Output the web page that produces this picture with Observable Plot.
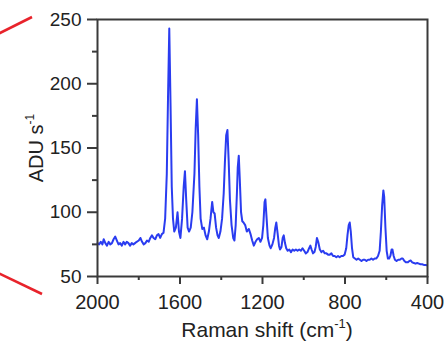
<!DOCTYPE html>
<html>
<head>
<meta charset="utf-8">
<script src="https://cdn.jsdelivr.net/npm/d3@7"></script>
<script src="https://cdn.jsdelivr.net/npm/@observablehq/plot@0.6"></script>
<style>
  html, body { margin: 0; padding: 0; background: #fff; }
  #wrap { position: relative; width: 446px; height: 342px; font-family: "Liberation Sans", Arial, sans-serif; }
  #deco { position: absolute; left: 0; top: 0; pointer-events: none; }
</style>
</head>
<body>
<div id="wrap"></div>
<script>
// Raman shift (cm^-1) and intensity (ADU s^-1)
const shift = [
  2000,1992,1984,1976,1970,1962,1954,1946,1938,1930,1922,1914,1906,1898,1890,1882,1874,1866,1858,1850,
  1842,1834,1826,1818,1810,1800,1792,1784,1776,1768,1760,1752,1744,1736,1728,1720,1712,1704,1696,1688,
  1680,1672,1664,1658,1652,1646,1640,1634,1628,1620,1612,1605,1598,1590,1582,1576,1570,1563,1556,1548,
  1540,1530,1524,1518,1512,1506,1500,1492,1484,1476,1468,1460,1452,1444,1438,1432,1425,1418,1412,1404,
  1396,1388,1382,1376,1370,1364,1358,1350,1342,1336,1330,1324,1320,1315,1310,1304,1298,1292,1284,1276,
  1266,1258,1250,1242,1234,1226,1218,1210,1202,1196,1190,1186,1180,1174,1166,1160,1152,1144,1138,1133,
  1127,1120,1115,1108,1102,1097,1091,1085,1078,1070,1062,1054,1046,1038,1030,1022,1014,1006,998,990,
  982,974,968,962,955,948,942,936,930,922,914,906,898,890,882,874,866,858,850,842,
  834,826,818,810,802,794,788,782,777,772,766,760,752,744,736,728,720,712,704,696,
  688,680,672,664,656,648,640,632,626,620,614,610,604,598,592,586,580,574,570,564,
  558,550,542,534,526,520,512,504,496,488,482,474,466,458,450,442,434,426,418,410,402
];
const adu = [
  76,75,77,75,79,76,74,77,75,76,79,81,78,75,76,74,77,75,77,76,
  74,76,75,76,77,78,80,77,75,76,78,77,80,82,80,79,82,83,80,83,
  84,95,130,190,243,185,120,95,85,88,100,85,80,95,120,132,110,88,85,88,
  100,130,165,188,160,120,95,87,88,82,79,85,95,108,100,99,88,82,80,85,
  95,115,140,160,164,140,110,90,80,78,90,115,135,144,125,100,93,92,90,85,
  87,83,78,74,77,79,80,77,80,90,108,110,95,80,74,72,75,80,88,92,
  84,74,71,73,80,82,76,72,70,71,69,71,70,71,70,71,70,72,70,68,
  69,72,74,71,68,69,73,80,77,71,69,70,68,68,67,67,68,66,66,65,
  66,65,66,66,67,72,82,90,92,85,72,65,64,63,64,63,62,63,63,62,
  63,63,64,63,64,64,66,70,85,105,117,112,88,70,64,64,66,71,71,66,
  63,62,63,63,64,64,62,61,61,62,62.5,61,60.5,60,60.5,60,59.5,59.5,59,59,58.7
];
const xTicks = [2000, 1600, 1200, 800, 400];
const xMinor = [1800, 1400, 1000, 600];
const yTicks = [50, 100, 150, 200, 250];
const yMinor = [75, 125, 175, 225];
const xTitle = "Raman shift (cm";
const xTitleSup = "-1";
const yTitle = "ADU s";
const yTitleSup = "-1";

const data = shift.map((s, i) => ({shift: s, adu: adu[i]}));
const axisColor = "#3a3a3a";

const chart = Plot.plot({
  width: 446,
  height: 342,
  marginLeft: 97,
  marginRight: 19,
  marginTop: 19,
  marginBottom: 66,
  style: {fontFamily: "'Liberation Sans', Arial, sans-serif", color: axisColor, background: "#fff"},
  x: {domain: [2000, 400]},
  y: {domain: [50, 250]},
  marks: [
    Plot.axisX(xTicks, {tickSize: 8, tickPadding: 10, fontSize: 20, label: null, strokeWidth: 2, tickFormat: d => String(d)}),
    Plot.axisX(xMinor, {tickSize: 4, label: null, strokeWidth: 2, tickFormat: () => ""}),
    Plot.axisY(yTicks, {tickSize: 10, tickPadding: 6, fontSize: 19, label: null, strokeWidth: 2, tickFormat: d => String(d)}),
    Plot.axisY(yMinor, {tickSize: 5, label: null, strokeWidth: 2, tickFormat: () => ""}),
    Plot.line(data, {x: "shift", y: "adu", stroke: "#2a3cf0", strokeWidth: 2, strokeLinejoin: "round"}),
    Plot.frame({stroke: axisColor, strokeWidth: 2})
  ]
});

const svg = d3.select(chart);
svg.selectAll("text").attr("fill", "#222");

// x axis title with superscript
const xt = svg.append("text")
  .attr("x", 267).attr("y", 337)
  .attr("text-anchor", "middle")
  .attr("font-size", 21)
  .attr("fill", "#222")
  .attr("font-family", "'Liberation Sans', Arial, sans-serif");
xt.append("tspan").text(xTitle);
xt.append("tspan").attr("dy", -9).attr("font-size", 13).text(xTitleSup);
xt.append("tspan").attr("dy", 9).text(")");

// y axis title with superscript
const yt = svg.append("text")
  .attr("transform", "translate(43,148) rotate(-90)")
  .attr("text-anchor", "middle")
  .attr("font-size", 20)
  .attr("fill", "#222")
  .attr("font-family", "'Liberation Sans', Arial, sans-serif");
yt.append("tspan").text(yTitle);
yt.append("tspan").attr("dy", -9).attr("font-size", 12).text(yTitleSup);

const wrap = document.getElementById("wrap");
wrap.appendChild(chart);

// decorative red connector lines from the parent figure
const deco = d3.select(wrap).append("svg")
  .attr("id", "deco").attr("width", 446).attr("height", 342);
deco.append("line").attr("x1", -4).attr("y1", 35).attr("x2", 32).attr("y2", 17)
  .attr("stroke", "#e8232b").attr("stroke-width", 2.6);
deco.append("line").attr("x1", -4).attr("y1", 272).attr("x2", 42).attr("y2", 294)
  .attr("stroke", "#e8232b").attr("stroke-width", 2.6);
</script>
</body>
</html>
